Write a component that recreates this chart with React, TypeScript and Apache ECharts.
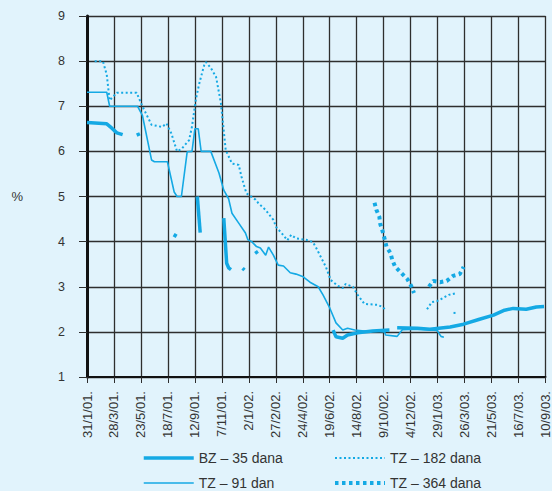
import React, { useEffect, useRef } from "react";
import * as echarts from "echarts";

// x values are days since 31/1/2001; tick every 56 days (8 weeks)
const tickLabels = [
  "31/1/01.", "28/3/01.", "23/5/01.", "18/7/01.", "12/9/01.", "7/11/01.",
  "2/1/02.", "27/2/02.", "24/4/02.", "19/6/02.", "14/8/02.", "9/10/02.",
  "4/12/02.", "29/1/03.", "26/3/03.", "21/5/03.", "16/7/03.", "10/9/03.",
];
const yTicks = [1, 2, 3, 4, 5, 6, 7, 8, 9];

const seriesNames = ["BZ – 35 dana", "TZ – 91 dan", "TZ – 182 dana", "TZ – 364 dana"];

// BZ – 35 dana (segments)
const bz35: number[][][] = [
  [[0, 6.64], [41, 6.61], [51, 6.52], [62, 6.41], [74, 6.37]],
  [[105, 6.41], [108, 6.34]],
  [[181, 4.1], [185, 4.17]],
  [[229, 5.0], [235, 4.2]],
  [[284, 4.52], [290, 3.52], [294, 3.42], [299, 3.38]],
  [[323, 3.41], [327, 3.37]],
  [[350, 3.79], [354, 3.73]],
  [[511, 2.04], [517, 1.89], [531, 1.86], [541, 1.93], [562, 1.98], [593, 2.02], [628, 2.04]],
  [[644, 2.09], [686, 2.08], [712, 2.06], [754, 2.11], [782, 2.17], [815, 2.28], [844, 2.37], [867, 2.48], [885, 2.52], [912, 2.5], [933, 2.55], [949, 2.56]],
];

// TZ – 91 dan
const tz91: number[][][] = [
  [
    [0, 7.31], [41, 7.31], [47, 7.0], [105, 7.0], [115, 6.8], [134, 5.81], [140, 5.77], [167, 5.77],
    [181, 5.1], [187, 5.0], [196, 5.0], [208, 5.99], [218, 6.0], [224, 6.5], [231, 6.5], [237, 6.0],
    [257, 6.0], [274, 5.52], [284, 5.14], [294, 4.95], [301, 4.63], [315, 4.41], [329, 4.19],
    [334, 4.04], [342, 4.0], [352, 3.89], [360, 3.86], [371, 3.7], [377, 3.88], [387, 3.7],
    [397, 3.48], [408, 3.46], [422, 3.31], [434, 3.28], [449, 3.22], [463, 3.1], [480, 3.0],
    [490, 2.82], [504, 2.53], [517, 2.2], [531, 2.04], [541, 2.08], [556, 2.04], [576, 2.02],
    [603, 2.02], [618, 2.0], [620, 1.93], [644, 1.9], [649, 1.97], [655, 2.05], [686, 2.06],
    [727, 2.03], [735, 1.9], [741, 1.88],
  ],
];

// TZ – 182 dana
const tz182: number[][][] = [
  [
    [16, 8.0], [33, 8.0], [41, 7.7], [47, 7.13], [62, 7.3], [103, 7.3], [115, 7.0], [134, 6.59],
    [156, 6.54], [165, 6.62], [175, 6.4], [187, 6.0], [196, 6.05], [212, 6.25], [218, 6.55],
    [226, 7.15], [233, 7.5], [243, 7.9], [247, 7.98], [257, 7.85], [268, 7.65], [278, 7.07],
    [288, 6.03], [301, 5.73], [315, 5.7], [321, 5.43], [331, 5.07], [350, 4.93], [356, 4.85],
    [371, 4.7], [387, 4.48], [393, 4.32], [404, 4.19], [416, 4.03], [424, 4.15], [434, 4.07],
    [455, 4.04], [469, 3.99], [476, 3.86], [496, 3.44], [506, 3.15], [521, 3.02], [531, 2.97],
    [537, 3.06], [552, 3.0], [562, 2.82], [576, 2.62], [603, 2.6], [614, 2.55], [620, 2.48],
  ],
  [[706, 2.5], [716, 2.66], [727, 2.68], [751, 2.82], [768, 2.86]],
  [[761, 2.42], [767, 2.42]],
];

// TZ – 364 dana
const tz364: number[][][] = [
  [
    [597, 4.86], [601, 4.7], [607, 4.55], [609, 4.39], [614, 4.22], [618, 4.06], [622, 3.88],
    [630, 3.75], [634, 3.59], [640, 3.44], [665, 3.17], [673, 3.02], [679, 2.86],
  ],
  [[710, 3.0], [719, 3.13], [733, 3.1], [747, 3.13], [760, 3.24], [774, 3.28], [782, 3.44]],
];

const COLOR = "#14a9e4";
const GRID = "#2e2e2e";
const FONT = "'Liberation Sans', Arial, sans-serif";
const X_STEP = 56;
const X_MAX = (tickLabels.length - 1) * X_STEP;
const Y_MIN = yTicks[0];
const Y_MAX = yTicks[yTicks.length - 1];

export default function App() {
  const ref = useRef<HTMLDivElement>(null);
  useEffect(() => {
    if (!ref.current) return;
    const chart = echarts.init(ref.current, null, { renderer: "svg" });
    const styles: Record<string, any> = {
      [seriesNames[0]]: { width: 3.5, type: "solid" },
      [seriesNames[1]]: { width: 1.6, type: "solid" },
      [seriesNames[2]]: { width: 2, type: [2, 2.5] },
      [seriesNames[3]]: { width: 4, type: [3.5, 3.5] },
    };
    const groups: [string, number[][][]][] = [
      [seriesNames[0], bz35],
      [seriesNames[1], tz91],
      [seriesNames[2], tz182],
      [seriesNames[3], tz364],
    ];
    const series: any[] = [];
    groups.forEach(([name, segs]) => {
      segs.forEach((seg) => {
        series.push({
          type: "line",
          name,
          data: seg,
          symbol: "none",
          showSymbol: false,
          lineStyle: { color: COLOR, ...styles[name] },
          itemStyle: { color: COLOR },
          z: 3,
        });
      });
    });
    const legendCommon = {
      orient: "vertical",
      padding: 0,
      itemWidth: 50,
      itemHeight: 14,
      itemGap: 11,
      itemStyle: { opacity: 0 },
      textStyle: { fontSize: 14, color: "#333", fontFamily: FONT },
      selectedMode: false,
    };
    const legendItem = (name: string) => ({
      name,
      itemStyle: { opacity: 0 },
      lineStyle: { color: COLOR, ...styles[name] },
    });
    chart.setOption({
      animation: false,
      grid: { left: 87, top: 16, right: 3, bottom: 114, containLabel: false },
      legend: [
        { ...legendCommon, left: 142, top: 451, data: [legendItem(seriesNames[0]), legendItem(seriesNames[1])] },
        { ...legendCommon, left: 333, top: 451, data: [legendItem(seriesNames[2]), legendItem(seriesNames[3])] },
      ],
      xAxis: {
        type: "value",
        min: 0,
        max: X_MAX,
        interval: X_STEP,
        axisLine: { show: true, onZero: false, lineStyle: { color: "#111111", width: 2 } },
        axisTick: { show: true, length: 6, lineStyle: { color: GRID, width: 1 } },
        splitLine: { show: true, lineStyle: { color: GRID, width: 1.3 } },
        axisLabel: {
          rotate: 90,
          margin: 14,
          fontSize: 13,
          color: "#333",
          fontFamily: FONT,
          formatter: (v: number) => tickLabels[Math.round(v / X_STEP)] ?? "",
        },
      },
      yAxis: {
        type: "value",
        min: Y_MIN,
        max: Y_MAX,
        interval: 1,
        name: "%",
        nameLocation: "middle",
        nameRotate: 0,
        nameGap: 64,
        nameTextStyle: { fontSize: 13, color: "#333", fontFamily: FONT },
        axisLine: { show: true, lineStyle: { color: "#111111", width: 3 } },
        axisTick: { show: true, length: 8, lineStyle: { color: GRID, width: 1 } },
        splitLine: { show: true, lineStyle: { color: GRID, width: 1.3 } },
        axisLabel: { margin: 22, fontSize: 12.5, color: "#333", fontFamily: FONT },
      },
      series,
    });
    return () => chart.dispose();
  }, []);
  return (
    <div
      ref={ref}
      style={{ position: "fixed", left: 0, top: 0, width: 552, height: 491, background: "#e1f3fc" }}
    />
  );
}
